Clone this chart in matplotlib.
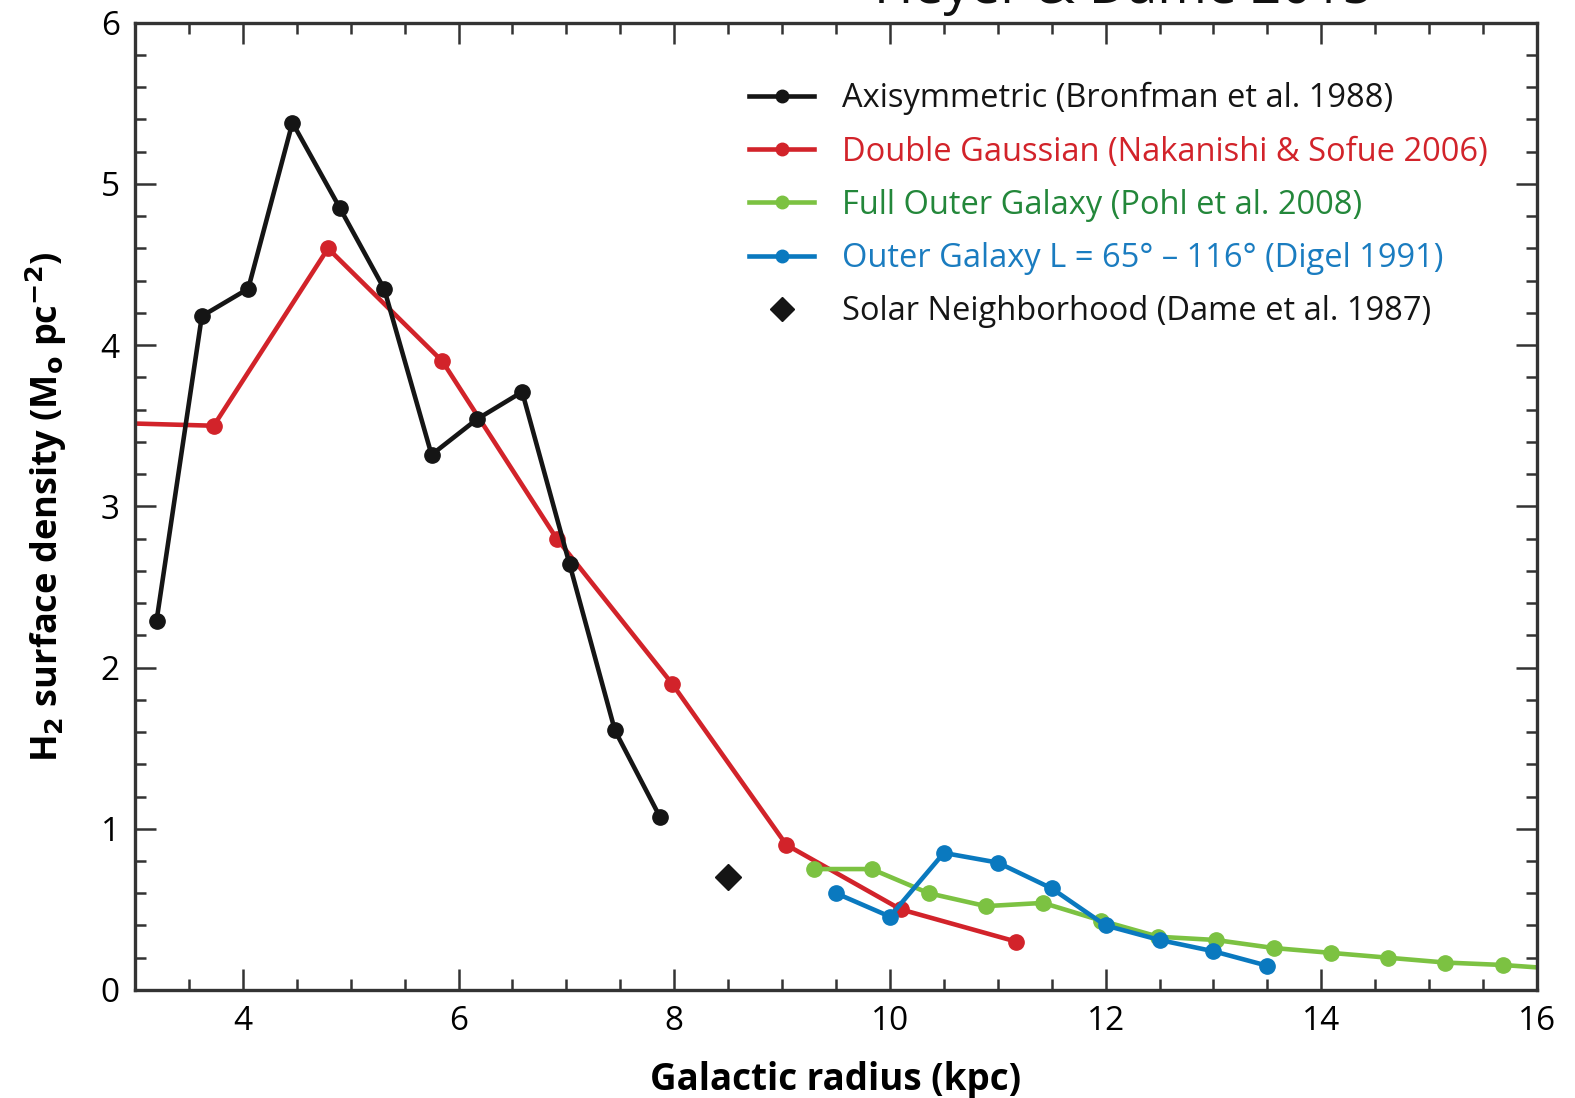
import numpy as np
import matplotlib.pyplot as plt
from matplotlib.lines import Line2D

# Axisymmetric (Bronfman et al. 1988)
r_bronf = [3.2, 3.62, 4.05, 4.46, 4.9, 5.31, 5.75, 6.17, 6.59, 7.03, 7.45, 7.87]
s_bronf = [2.29, 4.18, 4.35, 5.38, 4.85, 4.35, 3.32, 3.54, 3.71, 2.64, 1.61, 1.07]

# Double Gaussian (Nakanishi & Sofue 2006)
r_naka = [2.66, 3.73, 4.79, 5.85, 6.91, 7.98, 9.04, 10.1, 11.17]
s_naka = [3.52, 3.5, 4.6, 3.9, 2.8, 1.9, 0.9, 0.5, 0.3]

# Full Outer Galaxy (Pohl et al. 2008)
r_pohl = [9.3, 9.83, 10.36, 10.89, 11.42, 11.96, 12.49, 13.02, 13.56, 14.09, 14.62, 15.15, 15.68, 16.21]
s_pohl = [0.75, 0.75, 0.6, 0.52, 0.54, 0.43, 0.33, 0.31, 0.26, 0.23, 0.2, 0.17, 0.155, 0.13]

# Outer Galaxy L = 65-116 (Digel 1991)
r_digel = [9.5, 10.0, 10.5, 11.0, 11.5, 12.0, 12.5, 13.0, 13.5]
s_digel = [0.6, 0.455, 0.85, 0.79, 0.63, 0.4, 0.31, 0.24, 0.15]

# Solar Neighborhood (Dame et al. 1987)
r_sun = [8.5]
s_sun = [0.7]

labels = ['Axisymmetric (Bronfman et al. 1988)',
          'Double Gaussian (Nakanishi & Sofue 2006)',
          'Full Outer Galaxy (Pohl et al. 2008)',
          'Outer Galaxy L = 65° – 116° (Digel 1991)',
          'Solar Neighborhood (Dame et al. 1987)']

c_black = '#151515'
c_red = '#d2232a'
c_green = '#7cc242'
c_blue = '#0a79bf'
text_colors = [c_black, c_red, '#23873a', '#1a7cc0', c_black]

plt.rcParams['font.family'] = ['Open Sans', 'DejaVu Sans']

fig = plt.figure(figsize=(15.75, 10.98), dpi=100)
ax = fig.add_axes([0.0857, 0.0984, 0.8902, 0.8809])

lw = 3.3
ms = 11
ax.plot(r_bronf, s_bronf, '-o', color=c_black, lw=lw, ms=ms, zorder=3)
ax.plot(r_naka, s_naka, '-o', color=c_red, lw=lw, ms=ms, zorder=2)
ax.plot(r_pohl, s_pohl, '-o', color=c_green, lw=lw, ms=ms, zorder=2)
ax.plot(r_digel, s_digel, '-o', color=c_blue, lw=lw, ms=ms, zorder=3)
ax.plot(r_sun, s_sun, 'D', color=c_black, ms=13, zorder=3)

ax.set_xlim(3, 16)
ax.set_ylim(0, 6)
ax.set_xticks([4, 6, 8, 10, 12, 14, 16])
ax.set_xticks(np.arange(3, 16.01, 0.5), minor=True)
ax.set_yticks([0, 1, 2, 3, 4, 5, 6])
ax.set_yticks(np.arange(0, 6.01, 0.2), minor=True)
ax.tick_params(which='both', direction='in', top=True, right=True,
               color='#333333', width=1.8)
ax.tick_params(which='major', length=15, labelsize=24, pad=11)
ax.tick_params(which='minor', length=8)
for lab in ax.get_xticklabels() + ax.get_yticklabels():
    lab.set_fontweight('medium')
for sp in ax.spines.values():
    sp.set_linewidth(2.4)
    sp.set_color('#333333')

ax.set_xlabel('Galactic radius (kpc)', fontsize=26.5, fontweight='bold')
ax.set_ylabel(r'H$_\mathbf{2}$ surface density (M$_\mathbf{o}$ pc$^\mathbf{-2}$)',
              fontsize=26, fontweight='bold')
ax.xaxis.set_label_coords(0.5, -0.073)
ax.yaxis.set_label_coords(-0.047, 0.5)

handles = [
    Line2D([], [], color=c_black, lw=lw, marker='o', ms=9),
    Line2D([], [], color=c_red, lw=lw, marker='o', ms=9),
    Line2D([], [], color=c_green, lw=lw, marker='o', ms=9),
    Line2D([], [], color=c_blue, lw=lw, marker='o', ms=9),
    Line2D([], [], color=c_black, lw=0, marker='D', ms=12),
]
leg = ax.legend(handles, labels, loc='upper left', bbox_to_anchor=(0.417, 0.969),
                frameon=False, fontsize=23.5, handlelength=2.0, handletextpad=0.86,
                labelspacing=0.62)
for t, c in zip(leg.get_texts(), text_colors):
    t.set_color(c)

fig.text(0.555, 0.9973, 'Heyer & Dame 2015', fontsize=38.5, va='baseline',
         ha='left', color='#111111')

fig.savefig('out.png', dpi=100)
